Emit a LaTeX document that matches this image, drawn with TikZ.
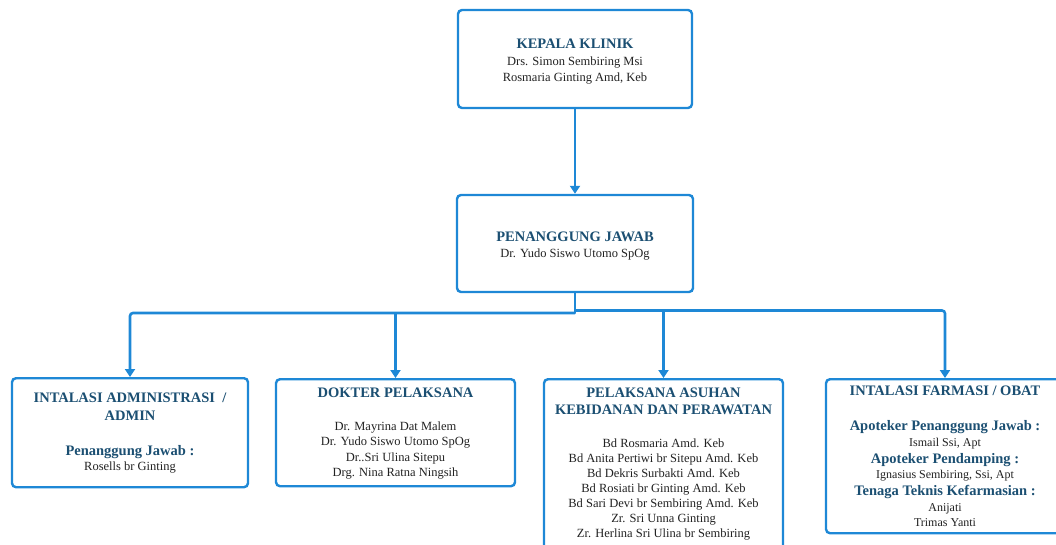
\documentclass[tikz,border=0pt]{standalone}
\usepackage{fontspec}
\setmainfont{Liberation Serif}
\usetikzlibrary{arrows.meta}

\definecolor{lineblue}{RGB}{30,136,214}
\definecolor{headblue}{RGB}{27,79,114}
\definecolor{bodytext}{RGB}{34,34,34}

\newcommand\hd[1]{{\fontsize{14.5}{17.5}\selectfont\bfseries\color{headblue}#1}}

\tikzset{
  orgbox/.style={draw=lineblue, line width=2.4pt, rounded corners=4pt, fill=white,
    inner sep=0pt},
  boxtext/.style={align=center, inner sep=0pt, text=bodytext,
    font=\fontsize{12.5}{15.2}\selectfont},
  link/.style={draw=lineblue, line width=2.6pt, rounded corners=3pt},
  arr/.style={link, -{Triangle[width=10pt,length=8pt]}},
}

\begin{document}
\begin{tikzpicture}[x=1pt, y=-1pt]
\useasboundingbox (0,0) rectangle (1056,545);
\clip (0,0) rectangle (1056,545);

% top level boxes
\node[orgbox, minimum width=234pt, minimum height=98pt] (kepala) at (575,59) {};
\node[orgbox, minimum width=236pt, minimum height=97pt] (pj) at (575,243.5) {};

\node[boxtext, anchor=north] (kepalatext) at (575,38.7)
  {\hd{KEPALA KLINIK}\\[2.2pt]Drs. Simon Sembiring Msi\\Rosmaria Ginting Amd, Keb};

\node[boxtext, anchor=north] (pjtext) at (575,231.4)
  {\hd{PENANGGUNG JAWAB}\\[0.8pt]Dr. Yudo Siswo Utomo SpOg};

% unit boxes
\node[orgbox, minimum width=236pt, minimum height=109pt, anchor=north] (admin) at (130,377) {};
\node[orgbox, minimum width=239pt, minimum height=107pt, anchor=north] (dokter) at (395.5,378) {};
\node[orgbox, minimum width=239pt, minimum height=190pt, anchor=north] (bidan) at (663.5,378) {};
\node[orgbox, minimum width=238pt, minimum height=154pt, anchor=north] (farmasi) at (945,378) {};

\node[boxtext, anchor=north] (admintext) at (130,392.5)
  {\hd{INTALASI ADMINISTRASI\ \ /}\\[2.5pt]\hd{ADMIN}\\[20.5pt]
   \hd{Penanggung Jawab :}\\Rosells br Ginting};

\node[boxtext, anchor=north] (doktertext) at (395.5,387.8)
  {\hd{DOKTER PELAKSANA}\\[17.8pt]
   Dr. Mayrina Dat Malem\\Dr. Yudo Siswo Utomo SpOg\\Dr..Sri Ulina Sitepu\\Drg. Nina Ratna Ningsih};

\node[boxtext, anchor=north, font=\fontsize{12.5}{15}\selectfont] (bidantext) at (663.5,387.8)
  {\hd{PELAKSANA ASUHAN}\\[2pt]\hd{KEBIDANAN DAN PERAWATAN}\\[18pt]
   Bd Rosmaria Amd. Keb\\Bd Anita Pertiwi br Sitepu Amd. Keb\\Bd Dekris Surbakti Amd. Keb\\
   Bd Rosiati br Ginting Amd. Keb\\Bd Sari Devi br Sembiring Amd. Keb\\
   Zr. Sri Unna Ginting\\Zr. Herlina Sri Ulina br Sembiring};

\node[boxtext, anchor=north, font=\fontsize{12}{15.2}\selectfont] (farmasitext) at (945,385.4)
  {\hd{INTALASI FARMASI / OBAT}\\[20.5pt]
   \hd{Apoteker Penanggung Jawab :}\\
   Ismail Ssi, Apt\\[1.8pt]
   \hd{Apoteker Pendamping :}\\[0.4pt]
   Ignasius Sembiring, Ssi, Apt\\[1.5pt]
   \hd{Tenaga Teknis Kefarmasian :}\\[0.5pt]
   Anijati\\
   Trimas Yanti};

% connectors
\draw[arr] (kepala.south) -- (pj.north);
\coordinate (jl) at (575,313);
\coordinate (jr) at (575,310.5);
\draw[link] (pj.south) -- (jr) -- (jl);
\draw[arr] (jl) -| (admin.north);
\draw[arr] (jl -| dokter.north) -- (dokter.north);
\draw[arr] (jr) -| (farmasi.north);
\draw[arr] (jr -| bidan.north) -- (bidan.north);
\end{tikzpicture}
\end{document}
